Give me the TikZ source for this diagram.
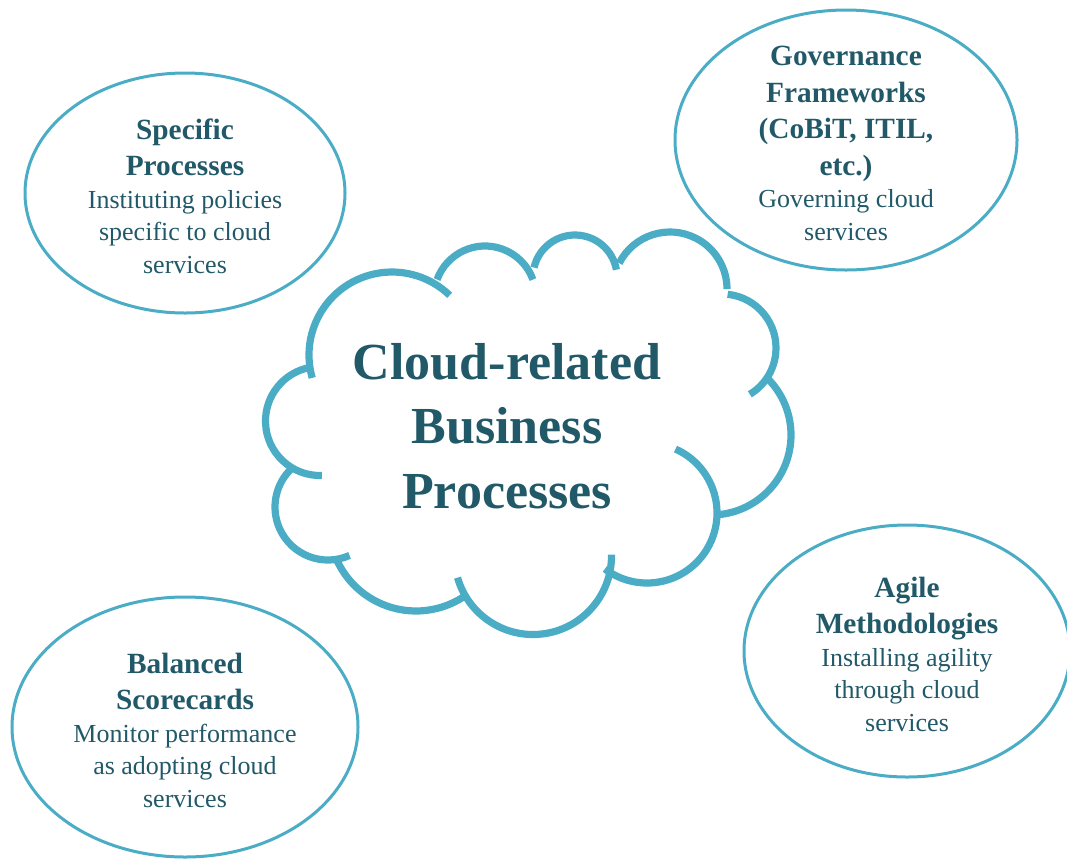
\documentclass[tikz,border=0pt]{standalone}
\usepackage{fontspec}
\setmainfont{Liberation Serif}
\usepackage{xcolor}
\usetikzlibrary{shapes.geometric}
\definecolor{cloudblue}{HTML}{4BACC6}
\definecolor{darkteal}{HTML}{215968}
\newcommand{\lobe}[4]{\draw [cloudblue, line width=5.4pt] (#1) ++(#2:#4) arc (#2:#3:#4)}
\newcommand{\bubblehead}[1]{{\fontsize{22}{24.4}\selectfont\bfseries #1}}

\begin{document}
\begin{tikzpicture}[x=0.75pt,y=-0.75pt,
    bubble/.style={ellipse,draw=cloudblue,line width=2.25pt,inner sep=0pt},
    txt/.style={align=center,text=darkteal,yshift=-2.5pt,font=\fontsize{19.5}{24.4}\selectfont},
    cloudtxt/.style={align=center,text=darkteal,font=\fontsize{39}{48.4}\selectfont\bfseries}]
    \useasboundingbox (0,0) rectangle (1067,858);

    % the cloud, one arc per lobe
    \lobe{392,355}{164}{314}{83};
    \lobe{485,297}{200}{340}{51};
    \lobe{575,277}{193}{350}{42};
    \lobe{670,289}{207}{360}{57};
    \lobe{722,348}{-84}{59}{54};
    \lobe{711,435}{-45}{85}{80};
    \lobe{647,513}{-66}{127}{70};
    \lobe{533,556}{-1}{164}{78.5};
    \lobe{416,524}{57}{155}{87};
    \lobe{328,507}{66}{228}{53};
    \lobe{320,421}{88}{260}{54.5};

    \node[cloudtxt] (proc) at (507,426) {Cloud-related\\Business\\Processes};

    \node[bubble,minimum width=240pt,minimum height=180pt] (spec) at (185,193) {};
    \node[bubble,minimum width=256.5pt,minimum height=195pt] (gov) at (846,140) {};
    \node[bubble,minimum width=244.5pt,minimum height=189pt] (agile) at (907,651) {};
    \node[bubble,minimum width=259.5pt,minimum height=195pt] (bsc) at (185,727) {};

    \node[txt] (spectxt) at (spec.center) {\bubblehead{Specific}\\[2.6pt]\bubblehead{Processes}\\Instituting policies\\specific to cloud\\services};
    \node[txt] (govtxt) at (gov.center) {\bubblehead{Governance}\\[3pt]\bubblehead{Frameworks}\\[3pt]\bubblehead{(CoBiT, ITIL,}\\[3pt]\bubblehead{etc.)}\\Governing cloud\\services};
    \node[txt] (agiletxt) at (agile.center) {\bubblehead{Agile}\\[2.6pt]\bubblehead{Methodologies}\\Installing agility\\through cloud\\services};
    \node[txt] (bsctxt) at (bsc.center) {\bubblehead{Balanced}\\[2.6pt]\bubblehead{Scorecards}\\Monitor performance\\as adopting cloud\\services};
\end{tikzpicture}
\end{document}
